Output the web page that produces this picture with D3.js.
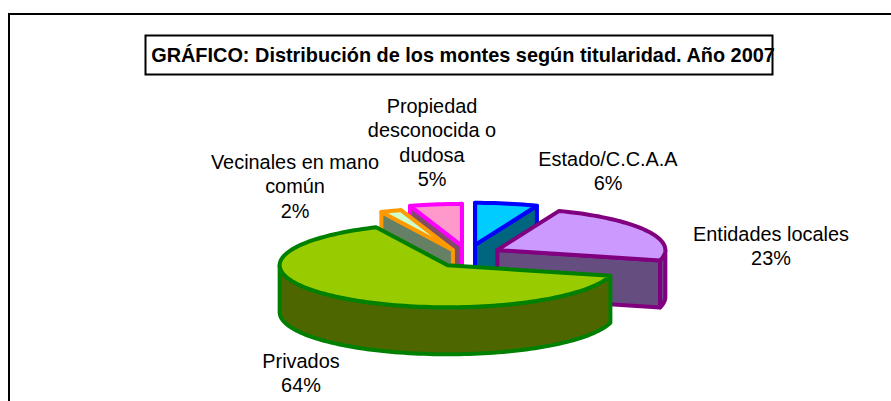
<!DOCTYPE html>
<html><head><meta charset="utf-8">
<script src="https://cdn.jsdelivr.net/npm/d3@7"></script>
<style>html,body{margin:0;padding:0;background:#fff}svg{display:block}text{font-family:"Liberation Sans",Arial,sans-serif;fill:#000}</style>
</head><body><div id="c"></div>
<script>
const categories = ["Estado/C.C.A.A","Entidades locales","Privados","Vecinales en mano común","Propiedad desconocida o dudosa"];
const values = [6,23,64,2,5];
const topColors = ["#00CCFF","#CC99FF","#99CC00","#CCFFCC","#FF99CC"];
const wallColors = ["#006680","#664D80","#4D6600","#668066","#804D66"];
const strokeColors = ["#0000FF","#800080","#008000","#FF9900","#FF00FF"];
const title = "GRÁFICO: Distribución de los montes según titularidad. Año 2007";
const labelLines = [["Estado/C.C.A.A","6%"],["Entidades locales","23%"],["Privados","64%"],["Vecinales en mano","común","2%"],["Propiedad","desconocida o","dudosa","5%"]];
const labelAnchor = [[608,166],[771,241],[301,368],[295,169],[432,113]];
const explodeX = [.225,.196,.19,.244,.232];
const explodeY = [.174,.107,.41,.05,.148];
const paintOrder = [0,4,3,1,2];

const W=891,H=401,cx=468,cy=252,Rx=168,Ry=42,depth=47;
const svg=d3.select("#c").append("svg").attr("width",W).attr("height",H);
svg.append("path").attr("d",`M${W} 14H9V${H}`).attr("fill","none").attr("stroke","#000").attr("stroke-width",2);
svg.append("rect").attr("x",145.5).attr("y",35.5).attr("width",627).attr("height",39).attr("fill","#fff").attr("stroke","#000").attr("stroke-width",2);
svg.append("text").attr("x",463).attr("y",62).attr("text-anchor","middle").attr("font-size",19.9).attr("font-weight","bold").text(title);

const arcs=d3.pie().sort(null).startAngle(0).endAngle(2*Math.PI)(values);
const xS=d3.scaleLinear().domain([-1,1]).range([-Rx,Rx]);
const yS=d3.scaleLinear().domain([-1,1]).range([-Ry,Ry]);
const pt=(a,o)=>[o[0]+xS(Math.sin(a)),o[1]-yS(Math.cos(a))];
const line=d3.line();
function curve(a0,a1,o,dy){const n=Math.max(2,Math.ceil((a1-a0)/0.03));return d3.range(n+1).map(i=>{const p=pt(a0+(a1-a0)*i/n,o);return [p[0],p[1]+dy];});}
const g=svg.append("g").attr("stroke-linejoin","round").attr("stroke-width",4);
paintOrder.forEach(i=>{
  const d=arcs[i],mid=(d.startAngle+d.endAngle)/2;
  const o=[cx+xS(Math.sin(mid)*explodeX[i]),cy-yS(Math.cos(mid)*explodeY[i])];
  const sl=g.append("g").attr("stroke",strokeColors[i]);
  [[d.startAngle,-1],[d.endAngle,1]].forEach(([a,s])=>{
    if(s*Math.sin(a)<-1e-6) return;
    const p=pt(a,o);
    sl.append("path").attr("fill",wallColors[i]).attr("d",line([o,p,[p[0],p[1]+depth],[o[0],o[1]+depth]])+"Z");
  });
  const a0=Math.max(d.startAngle,Math.PI/2),a1=Math.min(d.endAngle,3*Math.PI/2);
  if(a1>a0){
    const c=curve(a0,a1,o,0),b=curve(a0,a1,o,depth).reverse();
    sl.append("path").attr("fill",wallColors[i]).attr("d",line(c.concat(b))+"Z");
  }
  sl.append("path").attr("fill",topColors[i]).attr("d",line([o].concat(curve(d.startAngle,d.endAngle,o,0)))+"Z");
});
const lab=svg.append("g").attr("font-size",19.9).attr("text-anchor","middle");
labelLines.forEach((ls,i)=>{
  const t=lab.append("text").attr("aria-label",categories[i]);
  ls.forEach((s,j)=>t.append("tspan").attr("x",labelAnchor[i][0]).attr("y",labelAnchor[i][1]+j*24.4).text(s));
});
</script></body></html>
